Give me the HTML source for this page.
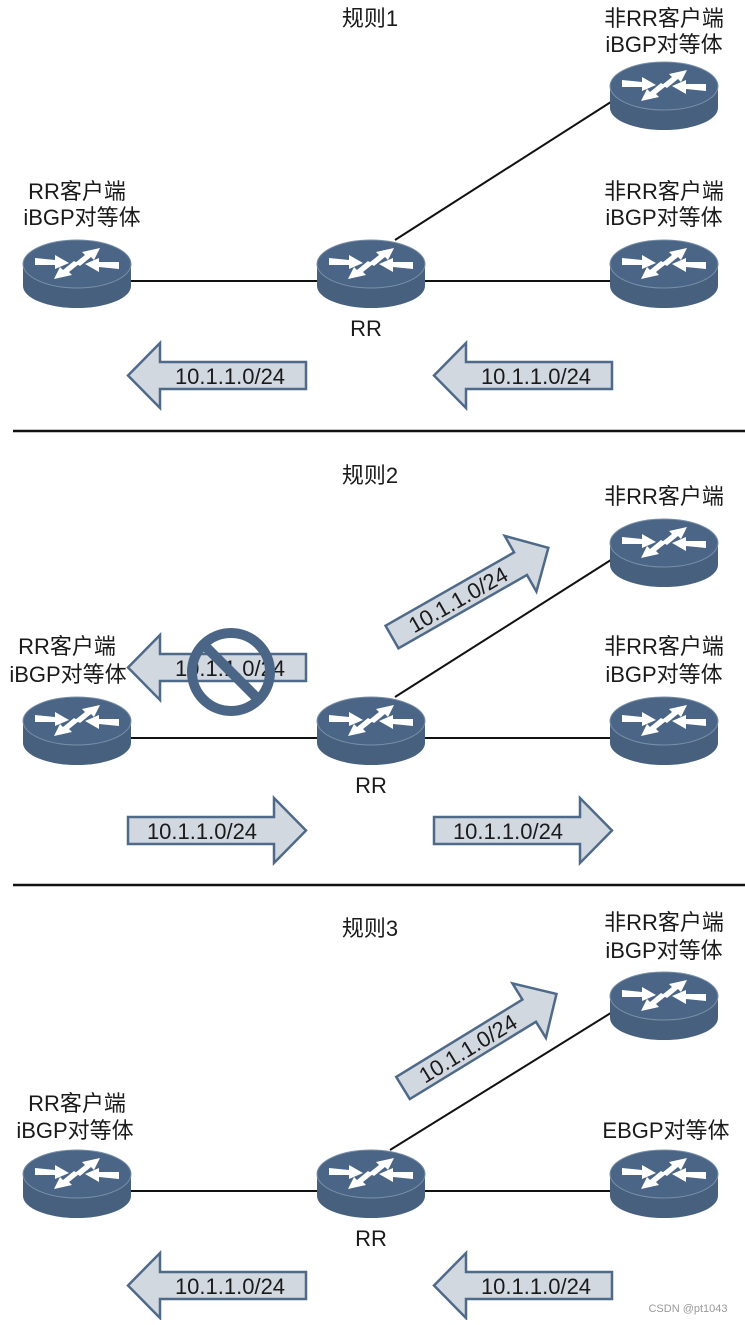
<!DOCTYPE html>
<html><head><meta charset="utf-8"><style>
html,body{margin:0;padding:0;background:#fff;}
text{font-family:"Liberation Sans","Noto Sans CJK SC",sans-serif;fill:#1a1a1a;}
</style></head><body>
<svg width="745" height="1320" viewBox="0 0 745 1320" xmlns="http://www.w3.org/2000/svg">
<defs>
<g id="rt">
<path d="M0,24 L0,46 A54,22 0 0 0 108,46 L108,24 Z" fill="#46607e"/>
<ellipse cx="54" cy="24" rx="54" ry="24" fill="#4a6585" stroke="#7a90a8" stroke-width="1"/>
<g fill="#fff">
<polygon points="12,18 32,20 32,15 46,23 32,29 32,25 12,25"/>
<polygon points="52,23 62,15 59,12 77,8 71,20 68,17 57,26"/>
<polygon points="96,29 76,27 76,32 62,24 76,18 76,22 96,22"/>
<polygon points="56,24 46,32 49,35 31,39 37,27 40,30 51,21"/>
</g>
</g>
<g id="la">
<polygon points="0,32.5 32,0 32,19 178,19 178,46 32,46 32,65" fill="#d2d8e0" stroke="#4f6a88" stroke-width="2.5"/>
<text x="102" y="41" font-size="22" text-anchor="middle">10.1.1.0/24</text>
</g>
<g id="ra">
<polygon points="178,32.5 146,0 146,19 0,19 0,46 146,46 146,65" fill="#d2d8e0" stroke="#4f6a88" stroke-width="2.5"/>
<text x="74" y="41" font-size="22" text-anchor="middle">10.1.1.0/24</text>
</g>
<g id="da">
<polygon points="180,0 148,-32 148,-13 0,-13 0,13 148,13 148,32" fill="#d2d8e0" stroke="#4f6a88" stroke-width="2.5"/>
<text x="76" y="8" font-size="22" text-anchor="middle">10.1.1.0/24</text>
</g>
</defs>

<line x1="13" y1="431" x2="745" y2="431" stroke="#111" stroke-width="2.5"/>
<line x1="13" y1="885" x2="745" y2="885" stroke="#111" stroke-width="2.5"/>

<!-- Section 1 -->
<text x="370" y="26" font-size="22" text-anchor="middle">规则1</text>
<line x1="131" y1="281" x2="317" y2="281" stroke="#111" stroke-width="2"/>
<line x1="425" y1="281" x2="610" y2="281" stroke="#111" stroke-width="2"/>
<line x1="395" y1="240" x2="614" y2="100" stroke="#111" stroke-width="2"/>
<use href="#rt" x="23" y="240"/>
<use href="#rt" x="317" y="240"/>
<use href="#rt" x="610" y="240"/>
<use href="#rt" x="610" y="62"/>
<text x="664" y="26" font-size="22" text-anchor="middle">非RR客户端</text>
<text x="664" y="52" font-size="22" text-anchor="middle">iBGP对等体</text>
<text x="77" y="199" font-size="22" text-anchor="middle">RR客户端</text>
<text x="82" y="225" font-size="22" text-anchor="middle">iBGP对等体</text>
<text x="664" y="199" font-size="22" text-anchor="middle">非RR客户端</text>
<text x="664" y="225" font-size="22" text-anchor="middle">iBGP对等体</text>
<text x="366" y="336" font-size="22" text-anchor="middle">RR</text>
<use href="#la" x="128" y="343"/>
<use href="#la" x="434" y="343"/>

<!-- Section 2 -->
<text x="370" y="483" font-size="22" text-anchor="middle">规则2</text>
<line x1="131" y1="738" x2="317" y2="738" stroke="#111" stroke-width="2"/>
<line x1="425" y1="738" x2="610" y2="738" stroke="#111" stroke-width="2"/>
<line x1="395" y1="697" x2="614" y2="558" stroke="#111" stroke-width="2"/>
<use href="#la" x="128" y="635"/>
<circle cx="231" cy="672" r="39" fill="none" stroke="#4a6585" stroke-width="10"/>
<line x1="203" y1="644" x2="259" y2="700" stroke="#4a6585" stroke-width="10"/>
<use href="#rt" x="23" y="697"/>
<use href="#rt" x="317" y="697"/>
<use href="#rt" x="610" y="697"/>
<use href="#rt" x="610" y="519"/>
<text x="664" y="504" font-size="22" text-anchor="middle">非RR客户端</text>
<text x="67" y="654" font-size="22" text-anchor="middle">RR客户端</text>
<text x="68" y="682" font-size="22" text-anchor="middle">iBGP对等体</text>
<text x="664" y="654" font-size="22" text-anchor="middle">非RR客户端</text>
<text x="664" y="682" font-size="22" text-anchor="middle">iBGP对等体</text>
<text x="371" y="793" font-size="22" text-anchor="middle">RR</text>
<g transform="translate(392,637) rotate(-29.7)"><use href="#da"/></g>
<use href="#ra" x="128" y="798"/>
<use href="#ra" x="434" y="798"/>

<!-- Section 3 -->
<text x="370" y="936" font-size="22" text-anchor="middle">规则3</text>
<line x1="131" y1="1191" x2="317" y2="1191" stroke="#111" stroke-width="2"/>
<line x1="425" y1="1191" x2="610" y2="1191" stroke="#111" stroke-width="2"/>
<line x1="390" y1="1150" x2="614" y2="1011" stroke="#111" stroke-width="2"/>
<g transform="translate(403,1088) rotate(-31.5)"><use href="#da"/></g>
<use href="#rt" x="23" y="1150"/>
<use href="#rt" x="317" y="1150"/>
<use href="#rt" x="610" y="1150"/>
<use href="#rt" x="610" y="972"/>
<text x="664" y="930" font-size="22" text-anchor="middle">非RR客户端</text>
<text x="664" y="958" font-size="22" text-anchor="middle">iBGP对等体</text>
<text x="77" y="1111" font-size="22" text-anchor="middle">RR客户端</text>
<text x="75" y="1138" font-size="22" text-anchor="middle">iBGP对等体</text>
<text x="666" y="1138" font-size="22" text-anchor="middle">EBGP对等体</text>
<text x="371" y="1246" font-size="22" text-anchor="middle">RR</text>
<use href="#la" x="128" y="1253"/>
<use href="#la" x="434" y="1253"/>
<text x="688" y="1312" font-size="11" text-anchor="middle" style="fill:#999">CSDN @pt1043</text>
</svg>
</body></html>
